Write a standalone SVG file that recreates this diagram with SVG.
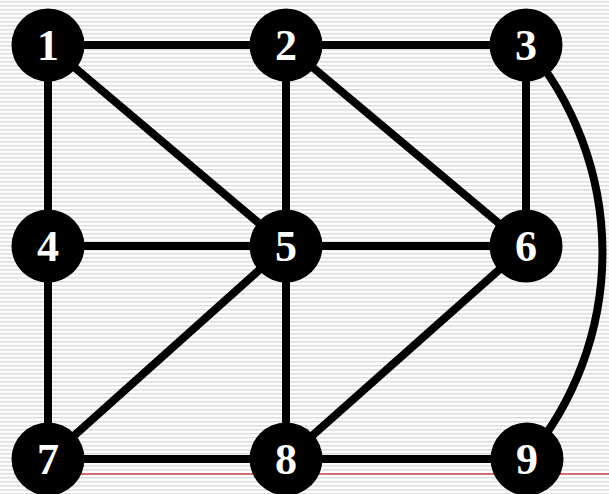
<svg xmlns="http://www.w3.org/2000/svg" width="609" height="494" viewBox="0 0 609 494">
<defs>
<pattern id="stripes" x="0" y="0" width="8" height="4" patternUnits="userSpaceOnUse">
<rect x="0" y="0" width="8" height="4" fill="#ffffff"/>
<rect x="0" y="1" width="8" height="1" fill="#dedede"/>
<rect x="0" y="2" width="8" height="1" fill="#ececec"/>
</pattern>
<style>
.edge{stroke:#000;stroke-width:8;fill:none;stroke-linecap:butt}
.node circle{fill:#000}
.node text{fill:#fff;font-family:"Liberation Serif","Times New Roman",serif;font-weight:bold;font-size:44px;text-anchor:middle}
</style>
</defs>
<rect x="0" y="0" width="609" height="494" fill="url(#stripes)"/>
<line x1="80" y1="474" x2="609" y2="474" stroke="#d04848" stroke-width="1.5"/>
<g id="connectors">
<line class="edge" x1="48" y1="45" x2="286" y2="45"/>
<line class="edge" x1="286" y1="45" x2="526" y2="45"/>
<line class="edge" x1="48" y1="45" x2="48" y2="246"/>
<line class="edge" x1="48" y1="45" x2="286" y2="246"/>
<line class="edge" x1="286" y1="45" x2="286" y2="246"/>
<line class="edge" x1="286" y1="45" x2="526" y2="246"/>
<line class="edge" x1="526" y1="45" x2="526" y2="246"/>
<line class="edge" x1="48" y1="246" x2="286" y2="246"/>
<line class="edge" x1="286" y1="246" x2="526" y2="246"/>
<line class="edge" x1="48" y1="246" x2="48" y2="459"/>
<line class="edge" x1="286" y1="246" x2="48" y2="459"/>
<line class="edge" x1="286" y1="246" x2="286" y2="459"/>
<line class="edge" x1="526" y1="246" x2="286" y2="459"/>
<line class="edge" x1="48" y1="459" x2="286" y2="459"/>
<line class="edge" x1="286" y1="459" x2="527" y2="459"/>
<path class="edge" d="M526,45 A320,320 0 0 1 527,459"/>
</g>
<g id="node1" class="node"><circle cx="48" cy="45" r="36.5"/><text x="48" y="60">1</text></g>
<g id="node2" class="node"><circle cx="286" cy="45" r="36.5"/><text x="286" y="60">2</text></g>
<g id="node3" class="node"><circle cx="526" cy="45" r="36.5"/><text x="526" y="60">3</text></g>
<g id="node4" class="node"><circle cx="48" cy="246" r="36.5"/><text x="48" y="261">4</text></g>
<g id="node5" class="node"><circle cx="286" cy="246" r="36.5"/><text x="286" y="261">5</text></g>
<g id="node6" class="node"><circle cx="526" cy="246" r="36.5"/><text x="526" y="261">6</text></g>
<g id="node7" class="node"><circle cx="48" cy="459" r="36.5"/><text x="48" y="474">7</text></g>
<g id="node8" class="node"><circle cx="286" cy="459" r="36.5"/><text x="286" y="474">8</text></g>
<g id="node9" class="node"><circle cx="527" cy="459" r="36.5"/><text x="527" y="474">9</text></g>
</svg>
